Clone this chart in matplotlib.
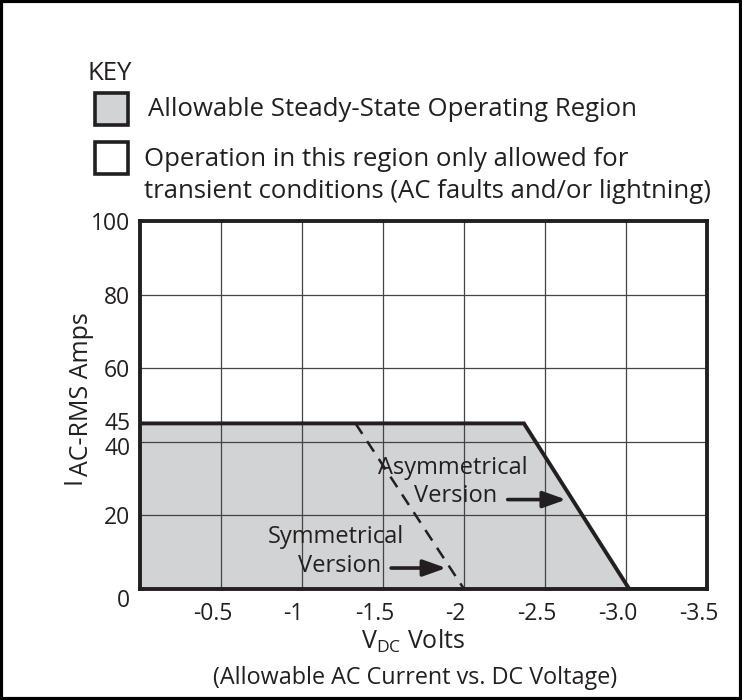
import matplotlib.pyplot as plt
from matplotlib.patches import Rectangle, Polygon
from matplotlib.transforms import ScaledTranslation

plt.rcParams['font.family'] = ['Open Sans', 'DejaVu Sans']
plt.rcParams['mathtext.fontset'] = 'custom'
plt.rcParams['mathtext.rm'] = 'Open Sans'

# allowable region outline (V_DC, I_AC)
region_v = [0, 0, -2.37, -3.02]
region_i = [0, 45, 45, 0]
# symmetrical version limit (dashed)
sym_v = [-1.33, -2.0]
sym_i = [45, 0]

x_ticks = [-0.5, -1, -1.5, -2, -2.5, -3.0, -3.5]
x_labels = ["-0.5", "-1", "-1.5", "-2", "-2.5", "-3.0", "-3.5"]
y_ticks = [0, 20, 40, 45, 60, 80, 100]
y_labels = ["0", "20", "40", "45", "60", "80", "100"]

gray = "#d1d3d4"
ink = "#231f20"

fig = plt.figure(figsize=(7.42, 7.0), dpi=100)
ax = fig.add_axes([140/742, 1-589/700, 567/742, 368/700])

ax.add_patch(Polygon(list(zip(region_v, region_i)), closed=True,
                     facecolor=gray, edgecolor="none", zorder=1))
ax.plot(region_v[1:] + [-3.5], region_i[1:] + [0], color=ink, lw=2.8, zorder=3,
        solid_joinstyle="miter")
ax.plot(sym_v, sym_i, color=ink, lw=1.8, ls=(0, (5, 3.5)), zorder=3)

ax.set_xlim(0, -3.5)
ax.set_ylim(0, 100)
ax.set_xticks(x_ticks)
ax.set_xticklabels(x_labels)
ax.set_yticks(y_ticks)
ax.set_yticklabels(y_labels)
ax.tick_params(length=0, labelsize=16.5, colors=ink)
ax.tick_params(axis="x", pad=9)
ax.tick_params(axis="y", pad=7)
shift = ScaledTranslation(-6/72, 0, fig.dpi_scale_trans)
for lab in ax.get_xticklabels():
    lab.set_transform(lab.get_transform() + shift)
ylabs = ax.get_yticklabels()
ylabs[0].set_va("top")
# 40 and 45 sit close together; nudge them apart a little
ylabs[2].set_transform(ylabs[2].get_transform() + ScaledTranslation(0, -3/72, fig.dpi_scale_trans))
ylabs[3].set_transform(ylabs[3].get_transform() + ScaledTranslation(0, 2/72, fig.dpi_scale_trans))
for s in ax.spines.values():
    s.set_linewidth(2.8)
    s.set_color(ink)
    s.set_zorder(5)
ax.grid(True, color="#444444", lw=0.9)
for gl in ax.get_ygridlines():
    if gl.get_ydata()[0] in (0, 45, 100):
        gl.set_visible(False)
for gl in ax.get_xgridlines() + ax.get_ygridlines():
    gl.set_zorder(2)

# axis titles
fig.text(413/742, 1-641/700, r"V$_{\mathrm{DC}}$ Volts", fontsize=18, color=ink,
         ha="center", va="center")
fig.text(415/742, 1-678/700, "(Allowable AC Current vs. DC Voltage)", fontsize=16.8,
         color=ink, ha="center", va="center")
fig.text(74/742, 1-484/700, "I", fontsize=18, rotation=90, color=ink,
         ha="center", va="bottom")
fig.text(82/742, 1-476/700, "AC-RMS Amps", fontsize=18, rotation=90, color=ink,
         ha="center", va="bottom")

# annotations
ax.text(-1.93, 33, "Asymmetrical", fontsize=17, color=ink, ha="center", va="center", zorder=4)
ax.text(-1.95, 25.3, "Version", fontsize=17, color=ink, ha="center", va="center", zorder=4)
ax.annotate("", xy=(-2.63, 24.3), xytext=(-2.27, 24.3),
            arrowprops=dict(arrowstyle="-|>,head_length=1.4,head_width=0.5",
                            color=ink, lw=2.6, shrinkA=0, shrinkB=0), zorder=4)
ax.text(-1.21, 14.1, "Symmetrical", fontsize=17, color=ink, ha="center", va="center", zorder=4)
ax.text(-1.23, 6.2, "Version", fontsize=17, color=ink, ha="center", va="center", zorder=4)
ax.annotate("", xy=(-1.89, 5.7), xytext=(-1.55, 5.7),
            arrowprops=dict(arrowstyle="-|>,head_length=1.4,head_width=0.5",
                            color=ink, lw=2.6, shrinkA=0, shrinkB=0), zorder=4)

# key
fig.text(87/742, 1-73/700, "KEY", fontsize=18.5, color=ink, ha="left", va="center")
fig.patches.append(Rectangle((95/742, 1-125/700), 33/742, 32/700, transform=fig.transFigure,
                             facecolor=gray, edgecolor=ink, lw=2.6, figure=fig))
fig.patches.append(Rectangle((95/742, 1-174/700), 33/742, 32/700, transform=fig.transFigure,
                             facecolor="white", edgecolor=ink, lw=2.6, figure=fig))
fig.text(148/742, 1-110/700, "Allowable Steady-State Operating Region", fontsize=18.5,
         color=ink, ha="left", va="center")
fig.text(144/742, 1-160/700, "Operation in this region only allowed for", fontsize=18.5,
         color=ink, ha="left", va="center")
fig.text(144/742, 1-191/700, "transient conditions (AC faults and/or lightning)", fontsize=18.5,
         color=ink, ha="left", va="center")

# outer frame
fig.patches.append(Rectangle((0.002, 0.002), 0.996, 0.996, transform=fig.transFigure,
                             facecolor="none", edgecolor="black", lw=3, figure=fig))

fig.savefig("out.png", dpi=100)
